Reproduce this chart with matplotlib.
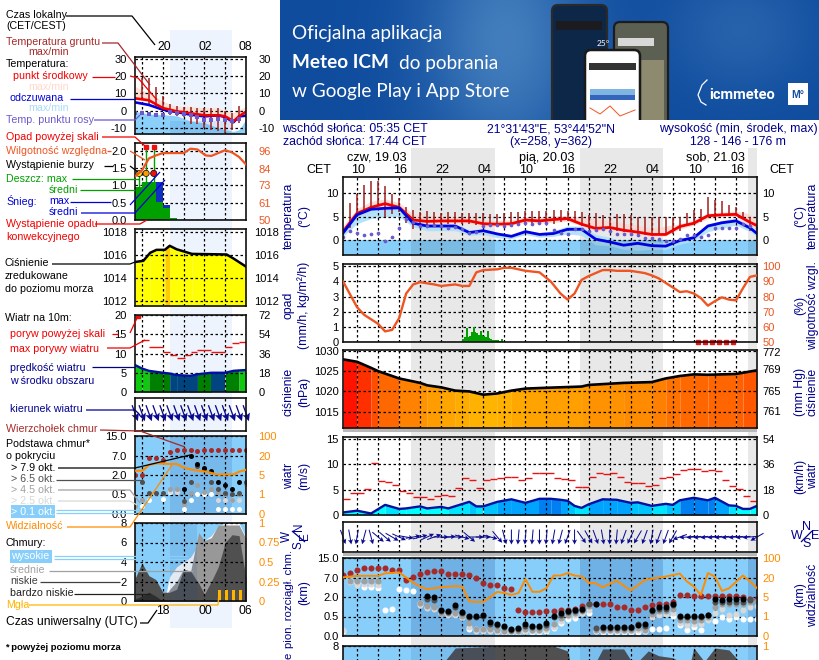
import numpy as np
import matplotlib
matplotlib.use("Agg")
import matplotlib.pyplot as plt
from matplotlib.patches import FancyBboxPatch, Rectangle
from matplotlib.colors import LinearSegmentedColormap

plt.rcParams['font.family'] = ['Liberation Sans', 'DejaVu Sans']

n = np.nan
W, H = 820, 660

NAVY = '#00008c'
SKY = '#87cefa'
BROWN = '#a52a2a'
ORANGE = '#ff8c00'
HUM = '#ee5522'
GREEN = '#00a000'

# ---- main meteogram (hours counted from 00 CET on 19.03)
hours_all = list(range(8, 68))
temp_hours = [8, 10, 12, 14, 16, 18, 20, 22, 24, 26, 28, 30, 32, 34, 36, 38, 40, 42, 44, 46, 48, 50, 52, 54, 56, 58, 60, 62, 64, 66, 67]
temp_mid = [1.8, 5.7, 7, 7.8, 7, 4.3, 4.0, 4.1, 4.1, 4.1, 3.5, 3.4, 3.5, 4.3, 4.1, 4.4, 4.6, 3.4, 2.5, 2.7, 2.1, 1.7, 1.2, 1.2, 2.9, 3.6, 5.2, 5.4, 5.5, 3.8, 3.1]
temp_hi = [3, 6.7, 8.3, 8.8, 8, 5.6, 5.2, 5.1, 5.0, 5.0, 4.3, 4.2, 4.4, 5, 5, 5.2, 5.2, 5.0, 4.5, 4.2, 3.6, 3.2, 2.6, 3.0, 3.5, 4.3, 5.8, 6, 6.2, 5.6, 4.4]
temp_lo = [1.0, 4.6, 5.6, 6.6, 6.3, 3.8, 3.3, 3.6, 3.7, 3.6, 3.0, 3.0, 3.2, 3.8, 3.6, 3.8, 4, 3.0, 2.0, 2.2, 1.6, 1.3, 0.8, 0.9, 2.4, 3.2, 4.6, 5, 5, 3, 2.4]
feel_mid = [1.5, 5.4, 6.6, 6.8, 6.9, 3.6, 3.0, 3.0, 3.0, 1.6, 2.0, 1.3, 0.8, 1.8, 1.2, 1.4, 2.3, 2.3, 0.2, -0.4, -1.1, -0.7, -1.2, -1.3, -0.1, 0.5, 3, 3.7, 4.1, 2.6, 1.4]
feel_hi = [1.6, 5.6, 6.8, 7.1, 7.1, 4.4, 3.5, 3.5, 3.5, 2.2, 2.4, 1.7, 1.1, 2.1, 1.6, 2.0, 3.0, 3.0, 1.2, 0.6, -0.4, 0.2, -0.4, -0.5, 0.4, 1.0, 3.5, 4.2, 4.7, 3.3, 1.9]
feel_lo = [0.8, 3.5, 4.6, 5.0, 5.0, 2.8, 2.0, 2.0, 2.0, 1.0, 1.2, 0.5, 0.3, 1.2, 0.6, 0.8, 1.3, 1.0, -1.0, -1.2, -2.0, -2.2, -2.0, -2.0, -0.9, -0.2, 1.8, 2.5, 3.2, 1.8, 0.8]
dew = [0.6, 2.0, 1.5, 1.0, 1.2, 1.5, -0.2, 0.7, 2.5, 4.6, 3.8, 3.0, 3.0, 3.2, 3.0, 2.6, 2.9, 2.4, 1.6, 1.7, 3.1, 3.2, 3.2, 3.1, 3.2, 3.4, 3.6, 3.5, 3.6, 3.6,
       2.2, 1.5, 1.2, 2.4, 2.3, 1.9, 2.1, 2.4, 2.0, 1.4, 1.4, 1.3, 1.0, 0.5, 0.5, 0.2, -0.3, -0.3, 0.2, 1, 1, 0.6, 1.1, 2.5, 2.5, 2.5, 2.6, 3.5, 3.1, 2.5]
soil_hours = list(range(9, 67))
soil_max = [7.9, 9.9, 11.8, 12.6, 12.6, 11.6, 9.9, 8.9, 7.1, 6.4, 6.1, 6.2, 6.1, 5.7, 5.9, 5.9, 5.7, 5.7, 5.7, 5.7, 5.6, 5.6, 5.7, 5.9, 5.9, 6.2, 6.2, 6.2, 6.2,
            6.4, 6.4, 6.3, 6.3, 5.9, 5.4, 5.7, 5.4, 5, 5.5, 5.5, 5.4, 5, 5, 5, 5, 4.9, 4.9, 5, 5.7, 6.4, 6.6, 9.3, 8.6, 8.4, 7.5, 7.1, 5.9, 5]
soil_min = [2.5, 5, 6, 6.8, 7.2, 5, 5.5, 6, 3.6, 2.3, 3.4, 3.3, 3.4, 3.4, 3.4, 3.4, 3.4, 3.5, 3.3, 3.2, 3.2, 3.2, 3.2, 3.3, 3.3, 3.6, 3.6, 3.6, 3.4,
            3.5, 3.8, 4, 4, 3, 2.4, 2.3, 2.5, 2.3, 1.9, 1.8, 1.7, 1, 1, 1, 1, 1, 1.2, 2, 3, 3.4, 3.9, 5, 5, 5.2, 5.3, 5.3, 4.5, 1.9]

hum_hours = [8, 10, 11, 12, 13, 14, 15, 16, 17, 18, 19, 21, 22, 24, 25, 26, 27, 28, 30, 31, 32, 34, 36, 37.6, 39, 40, 41, 42, 43, 45, 46, 47, 49, 51, 52, 53, 54, 56, 57, 58, 59, 60, 61, 62, 63, 64, 65, 66, 67]
hum = [90, 73, 68, 65, 62, 57, 58, 65.8, 82, 88, 89.5, 88, 87, 88, 87, 87, 96, 97.5, 98, 99, 99, 97, 96, 90, 82, 78, 82, 91, 93.5, 97.5, 97.5, 97, 97, 95.5, 94, 92, 89, 83, 83.5, 82, 79, 74, 77, 79.5, 78, 77.5, 85.5, 93, 94]
rain_hours = [25, 25.25, 25.5, 25.75, 26, 26.25, 26.5, 26.75, 27, 27.25, 27.5, 27.75, 28, 28.25, 28.5, 28.75, 29, 29.25, 29.5, 29.75, 30, 30.25, 30.5]
rain = [.2, .3, .95, .35, .4, .65, .98, .65, .6, .45, .75, .45, .4, .35, .7, .25, .2, .15, .15, .1, .1, .05, .2]
conv_hours = [58.6, 59.6, 60.6, 61.6, 62.6, 63.6]
conv_rain_hours = [59.6, 60.6]
conv_rain = [.3, .22]

press_hours = [8, 10, 12, 13, 16, 19, 20, 22, 24, 26, 28, 30, 32, 34, 37, 42, 43, 48, 52, 54, 56, 58, 60, 64, 65, 67]
press = [1027.9, 1027.3, 1025.8, 1025, 1023.2, 1022.1, 1021.5, 1021, 1020.2, 1020, 1019.2, 1019.5, 1020.2, 1020.7, 1020.9, 1021.2, 1021.6, 1022.1, 1022.3, 1023.2, 1023.8, 1024.2, 1024.1, 1024.3, 1024.6, 1025.2]

wind_hours = [8, 10, 12, 14, 16, 17, 19, 20, 22, 23, 26, 27, 28, 30, 32, 34, 36, 37.6, 39, 40, 41, 42, 43, 45, 47, 49, 50, 52, 54, 55, 56, 58, 60, 61, 63, 64, 65, 66, 67]
wind = [.5, .85, .3, 2, 1.2, 1.3, 1.7, 1.3, 1.6, 1.3, 2.6, 1.7, 1.7, 2.6, 3.1, 2.4, 3.2, 3.2, 3, 2.8, 1.8, 1.4, 2.1, 3.1, 3, 2.4, 2.5, 1.8, 2.2, 2, 2.9, 3.4, 2.9, 3.4, 1.9, 1.8, 1.2, 1.2, 1.8]
gust_hours = list(range(8, 67))
gust = [3.1, 4.3, 4.3, 5.1, 10.2, 6.7, 6.5, 6, 4.7, 4.3, 3.5, 3.5, 3.1, 3.8, 3.9, 3.7, 5.3, 7.4, 7, 5.3, 7, 7.2, 7.4, 7.6, 7.6, 7, 7.4, 8.2, 8.2, 8.2,
        7.4, 7.2, 7, 5.6, 5.5, 7.6, 8.2, 8.1, 8.2, 7.6, 6.6, 6.4, 6.4, 5.8, 6, 7.4, 7.6, 8, 8.8, 9.1, 9.1, 8.6, 8.8, 8.6, 7, 5.7, 5.1, 3.7, 2.8]
wind_dir = [340, 350, 10, 15, 345, 310, 310, 300, 295, 280, 260, 255, 245, 250, 270, 265, 270, 285, 310, 270, 270, 285, 320, 345, 0, 5, 5, 5, 0, 5,
            10, 15, 20, 0, 325, 330, 340, 350, 0, 5, 20, 25, 30, 20, 10, 20, 20, 30, 70, 85, 85, 85, 85, 85, 85, 85, 85, 85, 85, 60]

cloud_top = [8.1, 8.8, 10.2, 10.8, 10.8, 10.8, 10.8, 10.2, 10, 6.3, 7.4, 8.3, 9.4, 9.5, 9.5, 8.4, 8.5, 8.5, 8, 7, 5.6, 5.2, 5, 4.4, 4, 1.0, .83, .83, .87, .9,
             .9, 1, 1, 1.1, 1.34, 1.5, 1.5, 1.5, 1.5, 1.24, 1.24, 1, 1, 1.24, 1.37, 1.5, 1.5, 1.65, 2.4, 2.4, 2.3, 2.2, 2.2, 2.2, 2.3, 2.3, 2.3, 2, 1.85, 1.85]
base_79 = [n, n, n, n, n, n, n, n, n, n, n, n, 2.15, 2, 1, .93, 1.4, .88, .57, .57, .62, .37, .32, .26, .19, .21, .3, .26, .26, .33,
           .55, .75, .95, 1, 1.1, n, 1.45, .24, .24, .24, .24, .24, .27, .3, 1, 1.26, 1.26, 1.5, .55, .57, .57, .57, .65, 1.83, 1.8, 1.85, 1.85, 1.85, n, n]
base_65 = [n, n, n, n, n, n, n, n, n, n, n, n, 1.85, 1.75, .9, .85, 1.2, .8, .5, .5, .55, .3, .27, .22, .16, .18, .25, .22, .22, .28,
           .48, .65, .85, .9, 1, 1.45, .2, .2, .2, .2, .2, .2, .3, .25, .9, 1.1, 1.1, 1.35, .5, .5, .5, .5, .58, 1.65, 1.6, 1.65, 1.65, 1.65, 1.8, n]
base_45 = [n, 6.2, 6, 6, 6, 6, n, n, n, n, n, 1.55, 1.3, 1.25, .8, .75, .75, .55, .33, .18, .18, .18, .16, .14, .12, .14, .18, .16, .16, .2,
           .3, .45, .65, .75, .9, 1.3, .15, .15, .15, .15, .15, .15, .2, .15, .7, .9, .95, 1.1, .42, .4, .38, .42, .5, 1.2, 1.45, 1.45, 1.45, 1.5, 1.6, 1.7]
base_25 = [.15, 5.8, 5.2, 5.4, 5.4, 5.2, n, n, n, n, n, 1.35, 1.15, 1.1, .75, .65, .65, .5, .22, .12, .12, .12, .12, .11, .1, .11, .14, .12, .12, .15,
           .24, .38, .52, .6, .8, 1.0, .12, .12, .12, .12, .12, .12, .15, .12, .5, .6, .7, .8, .33, .28, .3, .32, .42, .8, 1.1, .6, .7, 1.0, 1.2, 1.3]
base_01 = [.12, 6, 5.6, 4.6, 4.6, 4.3, 1.0, 1.1, 4, 3.8, 3.5, 1.55, 1.25, n, .8, .7, .7, .5, .18, .17, .17, .15, .12, .11, .1, .1, .12, .11, .11, .13,
           .2, .33, .44, .45, .75, .8, .13, .1, .1, .1, .1, .1, .1, .12, .18, .18, .21, .55, .27, .15, .24, .15, .5, .39, .5, .44, .5, .44, .44, .44]
vis_hours = [8, 10, 13, 14, 16, 17, 18, 19, 20, 22, 24, 25, 26, 27, 28, 30, 31, 32, 33, 34, 35, 36, 37, 38, 39, 40, 41, 42, 43, 44, 45, 47, 49, 51, 52, 54, 56, 57, 58, 59, 60, 61, 62, 63, 65, 66, 67]
vis = [20.4, 27, 27, 37, 41, 20, 16, 13, 11, 12.5, 13.4, 13, 4.1, 4, 4, 9, 8, 6.6, 8, 18.8, 9, 9, 11.8, 28, 28, 38, 28, 25, 16, 15.5, 12.5, 17.5, 10, 18, 19, 24, 36, 17, 13, 6.5, 38, 24, 9.7, 11.6, 28, 17, 11.8]
low_cloud_hours = [8, 21, 22, 24, 31, 38, 40, 40.5, 44, 45, 48, 49.5, 51.5, 53, 55, 56, 57.5, 58, 59.5, 61, 63, 64.5, 67]
low_cloud = [0, 0, 6, 7.8, 8, 8, 7.5, 6, 6.3, 7.7, 7.7, 6, 7.5, 7, 6.8, 6.4, 6.3, 7.8, 6.4, 7.8, 7.6, 6.4, 6]

night_spans = [(17.73, 29.6), (41.73, 53.6), (65.73, 67)]

# ---- left legend meteogram
l_temp_hours = [16, 18, 20, 22, 24, 26, 28, 29, 30.2, 31, 32]
l_temp = [7.1, 6, 1.5, -0.4, -1.5, -2.7, -2.7, -3.3, -6.2, -3.3, -0.6]
l_feel = [4.8, 3.3, 0.6, -0.8, -2.3, -3.3, -2.7, -3.7, -6.7, -3.3, -2.9]
l_temp_hi = [14, 10, 5.4, 2.5, 2.5, 1.5, 1.5, 0.5, -1.3, 0.5, 2.5]
l_feel_hi = [-0.4, -2, -2.3, -3, -6, -7, -10, -11, -12, -11, -5]
l_hours = list(range(16, 32))
l_dew = [-1.3, -1.3, -1.7, -2.3, -2.7, -1, -1.3, -1.7, -2.3, -3.8, -5.2, -5.6, -4.8, -5.6, -6.2, -4.8]
l_soil_hours = list(range(17, 32))
l_soil_max = [19, 18.8, 13.6, 8.3, 3.8, 2.9, 2.1, 2.1, 1.5, 1.5, 1.5, 1.5, -0.4, -1.3, 2.5]
l_soil_min = [6, 4, 2.5, 0, -2.3, -3, -3.5, -7.5, -8, -10, -11, -12, -13, -11, -7]
l_hum_hours = [16, 17, 18, 19, 20, 23, 24, 25, 26.2, 27, 29, 30, 31, 32]
l_hum = [79, 83, 91, 93, 94.6, 94.6, 97.5, 97, 93, 92.7, 96.5, 95, 92, 87]
l_rain_hours = [16, 17, 18, 19, 20, 21]
l_rain = [.95, 1.1, 1.1, .53, .34, .05]
l_snow = [0, 0, 0, 1.1, .43, 0]
l_storm_hours = [16.6, 17.6, 18.7]
l_storm_cols = ['#ffe000', '#ff9900', '#ee1111']
l_over_hours = [17.6, 18.7]
l_press_hours = [16, 17.2, 18.2, 19.1, 20.3, 21, 22, 23.1, 24.2, 29.2, 30.2, 32]
l_press = [1015.4, 1015.5, 1016.2, 1016.45, 1016.45, 1016.8, 1016.5, 1016.3, 1016.1, 1016.05, 1015.7, 1015]
l_wind_hours = [16, 17, 18, 20, 21, 22, 24, 25, 27, 29, 30.2, 31, 32]
l_wind = [7, 6.1, 5.5, 5, 4.8, 4.4, 4.2, 4.6, 5, 5, 5.5, 5.6, 5.7]
l_wind_cols = ['#10c810', '#10c810', '#008000', '#008000', '#00457f', '#00457f', '#00457f', '#008000', '#00457f', '#008000', '#008000', '#10c810']
l_gust_hours = [17, 18, 20, 21, 22, 23.2, 24, 25, 27, 29, 30, 31]
l_gust_ends = [18, 20, 21, 22, 23.2, 24, 25, 27, 29, 30, 31, 32]
l_gust = [13.4, 11.6, 10.5, 9.6, 8.8, 9.7, 10.3, 10.8, 10.5, 11.6, 12.6, 12.9]
l_dir = [340] * 17
l_top = [2, 2, 6.3, 6.3, 5.8, 8.6, 9.2, 9.4, 9.4, 8.8, 9.4, 9.4, 9.4, 9.4, 9.4, 9.4, 9.4]
l_base_hours = list(range(16, 33))
l_b79 = [n, n, n, n, n, n, n, .9, 6.9, 4.8, 3.9, 3.1, 1.5, 1.2, .9, 1.5, n]
l_b65 = [n, 1.5, .65, .65, .65, n, n, .34, 1.5, 4.2, 3.5, 1.5, .9, .65, .55, .65, 1.5]
l_b45 = [.2, .36, n, n, n, .9, .9, .25, .65, 1.24, .7, .9, .7, .55, .36, .55, 1.3]
l_b25 = [.2, n, n, n, n, .75, .7, .34, n, n, n, n, .36, .36, .36, .36, n]
l_b01 = [n, .2, .36, n, .38, .7, n, .12, .36, .57, .57, .57, .12, .12, .12, .12, n]
l_vis_hours = [16, 17.1, 18, 19.1, 21, 22, 23.1, 24.2, 26.4, 27.8, 30.2, 31, 32]
l_vis = [8.3, 8.3, 12.7, 14, 13.5, 13.5, 10.6, 9, 7.5, 5.4, 5.5, 7.5, 9]
l_cl_hours = [16, 17, 18, 19, 20, 20.4, 21, 22, 23, 24, 24.8, 25.2, 26, 27, 28, 29, 30, 31, 32]
l_cl_high = [0, 0, 0, 0, 0, 0.5, 2.5, 3.5, 4, 4.5, 5.4, 6, 6.2, 6.7, 7.7, 8, 8, 8, 6.5]
l_cl_mid = [0, 0, 0, 0, 0, 0.5, 1.2, 2, 3.3, 3.0, 5.8, 7, 6.2, 6.5, 7.8, 7.8, 7.8, 7.8, 6.4]
l_cl_low = [2.3, 3.9, 2.6, 2.2, .9, .9, .9, 1.2, 3.2, 3.1, 2.2, 1.8, .7, 2, 3.5, 6, 6.8, 6.7, 2.3]
l_cl_vlow = [.2, .5, .9, .5, 0, 0, 0, 0, 0, 0, 0, 0, 0, 0, 0, 0, 0, 0, 0]
l_fog_hours = [28, 29, 30, 31]
l_fog = [1.1, 1.1, 1.1, 1.1]

fig = plt.figure(figsize=(W / 100, H / 100), dpi=100)


def panel(l, t, r, b, xlim, z=2):
    ax = fig.add_axes([l / W, 1 - b / H, (r - l) / W, (b - t) / H], zorder=z)
    ax.patch.set_alpha(0)
    ax.set_xlim(*xlim)
    ax.tick_params(length=0, labelsize=8, pad=3)
    ax.set_xticks(np.arange(10 if xlim[0] == 8 else 17, xlim[1], 3))
    ax.set_xticklabels([])
    ax.grid(True, color='black', linestyle=(0, (2, 2)), linewidth=0.9)
    ax.set_axisbelow(False)
    for s in ax.spines.values():
        s.set_linewidth(1.2)
        s.set_color('#101010')
        s.set_zorder(6)
    return ax


def right_ticks(ax, ticks, labels, color='black', pad=4):
    tw = ax.twinx()
    tw.set_zorder(ax.get_zorder() + 1)
    tw.set_ylim(*ax.get_ylim())
    tw.set_yticks(ticks, labels)
    tw.tick_params(length=0, labelsize=8, pad=pad, colors=color)
    for s in tw.spines.values():
        s.set_visible(False)
    return tw


def km_fwd(v):
    return np.interp(v, [0, .5, 2, 7, 15], [0, 1, 2, 3, 4])


def km_inv(v):
    return np.interp(v, [0, 1, 2, 3, 4], [0, .5, 2, 7, 15])


def vis_fwd(v):
    return np.interp(v, [0, 1, 5, 20, 100], [0, 1, 2, 3, 4])


def vis_inv(v):
    return np.interp(v, [0, 1, 2, 3, 4], [0, 1, 5, 20, 100])


def night(ax, spans, color='black', alpha=0.09, y0=None, y1=None):
    for a, b in spans:
        if y0 is None:
            ax.axvspan(a, b, color=color, alpha=alpha, linewidth=0, zorder=1.5)
        else:
            ax.fill_between([a, b], y0, y1, color=color, alpha=alpha, linewidth=0, zorder=1.5)


def cloud_base_dots(ax, hrs, series, size):
    cols = ['white', '#d8d8d8', '#a0a0a0', '#505050', 'black']
    for vals, c in zip(series, cols):
        ax.scatter(hrs, vals, s=size, color=c, linewidths=0, zorder=3.2)


def arrows(ax, hrs, dirs, length, head, y=0.0, width=1.0):
    d = np.radians(dirs)
    ax.quiver(hrs, np.full(len(hrs), y), -np.sin(d) * length, -np.cos(d) * length, angles='uv', scale_units='dots', scale=1,
              units='dots', width=width, headwidth=head, headlength=head, headaxislength=head - 1, pivot='mid',
              color='#0a0a90', clip_on=False, zorder=4)


press_cmap = LinearSegmentedColormap.from_list('press', [(0, '#ffb400'), (.22, '#ff9c00'), (.5, '#ff7000'), (.75, '#ff4a00'), (1, '#ff1000')])
wind_cols = ['#00ffff', '#00e4ff', '#00c4ff', '#00a4ff', '#0080f0']

# ---- background layer: banner and the day/night bands
bg = fig.add_axes([0, 0, 1, 1], zorder=0)
bg.set_xlim(0, W)
bg.set_ylim(H, 0)
bg.axis('off')


def hx(h):
    return 343 + (h - 8) * (757 - 343) / 59


for a, b in night_spans:
    bg.add_patch(Rectangle((hx(a), 148), hx(b) - hx(a), 512, color='#e8e8e8', lw=0))
bg.add_patch(Rectangle((170, 30), 62, 598, color='#eef4fd', lw=0))
for y in [428.5, 552.5]:
    bg.add_patch(Rectangle((343, y), 414, 3, color='#b8b8b8', lw=0))

yy, xx = np.mgrid[0:120, 0:540]
glow = np.exp(-((xx - 225) / 80.0) ** 2 - ((yy - 40) / 120.0) ** 2)
glow2 = np.exp(-((xx - 460) / 70.0) ** 2 - ((yy - 30) / 60.0) ** 2)
base = np.array([0.06, 0.30, 0.62])
light = np.array([0.26, 0.49, 0.74])
img = base[None, None, :] + (light - base)[None, None, :] * np.clip(glow + 0.45 * glow2, 0, 1)[:, :, None]
bg.imshow(img, extent=[280, 820, 120, 0], aspect='auto', interpolation='bilinear')
bg.set_xlim(0, W)
bg.set_ylim(H, 0)

for x0, y0, w, h, fc, ec in [(552, 5, 55, 125, '#0c2748', '#2a2a2a'), (614, 22, 54, 108, '#5b6052', '#1c1c1c')]:
    bg.add_patch(FancyBboxPatch((x0, y0), w, h, boxstyle='round,pad=0,rounding_size=6', fc=fc, ec=ec, lw=1.6))
bg.add_patch(Rectangle((556, 21), 46, 9, color='#1b1b20', lw=0))
bg.add_patch(Rectangle((618, 38), 36, 8, color='#d8d8d8', lw=0))
bg.add_patch(Rectangle((640, 60), 24, 60, color='#8d8a70', lw=0))
bg.add_patch(FancyBboxPatch((585, 50), 55, 80, boxstyle='round,pad=0,rounding_size=6', fc='white', ec='#1a1a1a', lw=1.8))
bg.add_patch(Rectangle((589, 63), 47, 7, color='#333333', lw=0))
bg.add_patch(Rectangle((590, 89), 45, 6, color='#7fb5e0', lw=0))
bg.add_patch(Rectangle((590, 95), 45, 5, color='#3366bb', lw=0))
bg.plot([590, 600, 610, 620, 635], [108, 114, 106, 116, 110], color='#ee5522', lw=0.7)
bg.text(597, 43, '25°', color='white', fontsize=6, ha='left', va='center', family='Lato')
bg.add_patch(Rectangle((280, 120), 540, 28, color='white', lw=0, zorder=5))
bg.add_patch(Rectangle((788, 83), 20, 22, color='white', lw=0))
bg.text(798, 94.5, 'M°', color='#1450a0', fontsize=7.5, fontweight='bold', ha='center', va='center')
bg.text(709, 95, 'icmmeteo', color='white', fontsize=10.5, fontweight='bold', ha='left', va='center', family='Roboto')
bg.plot([707, 702, 698, 701, 706], [80, 85, 95, 102, 105], color='white', lw=0.9)

bg.text(292, 34, 'Oficjalna aplikacja', color='white', fontsize=13.7, va='center', family='Lato')
bg.text(292, 63, 'Meteo ICM', color='white', fontsize=13.7, va='center', family='Lato', fontweight='bold')
bg.text(399, 63, 'do pobrania', color='white', fontsize=13.7, va='center', family='Lato')
bg.text(292, 92, 'w Google Play i App Store', color='white', fontsize=13.7, va='center', family='Lato')

# ---- main panels
MX = (8, 67)
ML, MR = 343, 757

ax = panel(ML, 177, MR, 255, MX)
ax.set_ylim(-3.2, 13.5)
ax.set_yticks([0, 5, 10])
ax.axhspan(-3.2, 0, color=SKY, lw=0, zorder=1)
ax.fill_between(temp_hours, temp_lo, temp_hi, color='#ffd4cc', lw=0, alpha=0.8, zorder=1.2)
ax.fill_between(temp_hours, feel_lo, feel_hi, color='#aee0fb', lw=0, alpha=0.9, zorder=1.3)
night(ax, night_spans, alpha=0.09, y0=-3.2, y1=0)
ax.vlines(soil_hours, soil_min, soil_max, color='#a02020', lw=1.1, zorder=3)
ax.plot(temp_hours, temp_mid, color='#f00000', lw=2, zorder=3.3)
ax.plot(temp_hours, feel_mid, color='#0000e0', lw=2, zorder=3.4)
ax.scatter(hours_all, dew, s=7, color='#6a5acd', lw=0, zorder=3.5)
right_ticks(ax, [0, 5, 10], ['0', '5', '10'])

ax = panel(ML, 264, MR, 342, MX)
ax.set_ylim(0, 5.15)
ax.set_yticks([0, 1, 2, 3, 4, 5])
ax.bar(rain_hours, rain, width=.25, align='edge', color=GREEN, lw=0, zorder=3)
ax.bar(conv_rain_hours, conv_rain, width=.1, color=GREEN, lw=0, zorder=3)
ax.axhline(0.02, color=GREEN, lw=0.8, zorder=3)
ax.plot(conv_hours, [0] * len(conv_hours), 's', color='#ee1111', ms=2.6, clip_on=False, zorder=5)
tw = right_ticks(ax, [50, 60, 70, 80, 90, 100], ['50', '60', '70', '80', '90', '100'], HUM)
tw.set_ylim(50, 101.5)
tw.plot(hum_hours, hum, color=HUM, lw=1.7, zorder=3)

ax = panel(ML, 350, MR, 428, MX)
ax.set_ylim(1011, 1030.2)
ax.set_yticks([1015, 1020, 1025, 1030])
for i in range(len(press_hours) - 1):
    m = (press[i] + press[i + 1]) / 2
    ax.fill_between(press_hours[i:i + 2], 1011, press[i:i + 2], color=press_cmap((m - 1019.5) / 8.2), lw=0, zorder=1)
ax.plot(press_hours, press, color='black', lw=1.9, zorder=3)
right_ticks(ax, [1015.2, 1020.2, 1025.5, 1029.8], ['761', '765', '769', '772'])

ax = panel(ML, 437, MR, 515, MX)
ax.set_ylim(0, 15.4)
ax.set_yticks([0, 5, 10, 15])
for i in range(len(wind_hours) - 1):
    m = (wind[i] + wind[i + 1]) / 2
    c = wind_cols[int(np.clip(np.digitize(m, [1.6, 2.1, 2.6, 3.1]), 0, 4))]
    ax.fill_between(wind_hours[i:i + 2], 0, wind[i:i + 2], color=c, lw=0, zorder=1)
ax.hlines(gust, gust_hours, np.array(gust_hours) + 1, color='#ee1111', lw=1.0, zorder=3)
ax.plot(wind_hours, wind, color='#0010a0', lw=1.7, zorder=3.2)
right_ticks(ax, [0, 5, 10, 15], ['0', '18', '36', '54'])

ax = panel(ML, 522, MR, 552, MX)
ax.set_ylim(-1, 1)
ax.set_yticks([])
arrows(ax, hours_all, wind_dir, 15, 5)

ax = panel(ML, 558, MR, 636, MX)
ax.set_yscale('function', functions=(km_fwd, km_inv))
ax.set_ylim(0, 15)
ax.set_yticks([0, .5, 2, 7, 15], ['0.0', '0.5', '2.0', '7.0', '15.0'])
ax.minorticks_off()
ax.axhspan(0, 15, color=SKY, lw=0, zorder=0.5)
night(ax, night_spans, color='#1e4e9a', alpha=0.22)
ax.scatter(hours_all, cloud_top, s=19, color=BROWN, lw=0, zorder=3)
cloud_base_dots(ax, hours_all, [base_01, base_25, base_45, base_65, base_79], 19)
tw = ax.twinx()
tw.set_zorder(ax.get_zorder() + 1)
tw.set_yscale('function', functions=(vis_fwd, vis_inv))
tw.set_ylim(0, 100)
tw.set_yticks([0, 1, 5, 20, 100], ['0', '1', '5', '20', '100'])
tw.minorticks_off()
tw.tick_params(length=0, labelsize=8, pad=4, colors=ORANGE)
for s in tw.spines.values():
    s.set_visible(False)
tw.plot(vis_hours, vis, color=ORANGE, lw=1.4, zorder=4)

ax = panel(ML, 646, MR, 724, MX)
ax.set_ylim(0, 8)
ax.set_yticks([8], ['8'])
ax.axhspan(0, 8, color=SKY, lw=0, zorder=0.5)
ax.fill_between(low_cloud_hours, 0, low_cloud, color='#505050', lw=0, zorder=1)
night(ax, night_spans, color='#1e4e9a', alpha=0.12)
right_ticks(ax, [8], ['1'], ORANGE)

# ---- left panels
LX = (16, 32)
LL, LR = 135, 246


def left_panel(t, b):
    a = panel(LL, t, LR, b, LX)
    a.tick_params(pad=6)
    return a


ax = left_panel(57, 134)
ax.set_ylim(-13.5, 31)
ax.set_yticks([-10, 0, 10, 20, 30], ['-10', '0', '10', '20', '30'])
ax.fill_between(l_temp_hours, -13.5, l_feel_hi, color='#8ad0fb', lw=0, zorder=1)
ax.fill_between(l_temp_hours, l_temp, l_temp_hi, color='#ffe0d4', lw=0, zorder=1.1)
night(ax, [(21, 30)], color='#2050a0', alpha=0.1, y0=-13.5, y1=-6)
ax.vlines(l_soil_hours, l_soil_min, l_soil_max, color='#a02020', lw=1.1, zorder=3)
ax.plot(l_temp_hours, l_feel, color='#0000e0', lw=1.9, zorder=3.3)
ax.plot(l_temp_hours, l_temp, color='#f00000', lw=1.9, zorder=3.4)
ax.scatter(l_hours, l_dew, s=6, marker='s', color='#6a5acd', lw=0, zorder=3.5)
right_ticks(ax, [-10, 0, 10, 20, 30], ['-10', '0', '10', '20', '30'], pad=9)

ax = left_panel(143, 220)
ax.set_ylim(0, 2.23)
ax.set_yticks([0, .5, 1, 1.5, 2], ['0.0', '0.5', '1.0', '1.5', '2.0'])
ax.bar(l_rain_hours, l_snow, width=1, align='edge', color='#1030c0', lw=0, zorder=3)
ax.bar(l_rain_hours, l_rain, width=1, align='edge', color=GREEN, lw=0, zorder=3.1)
ax.plot([l_storm_hours[0]] * 2, [.95, 1.35], color=GREEN, lw=1, zorder=3)
ax.vlines(l_over_hours, 1.1, 2.1, color=GREEN, lw=1, zorder=3)
ax.scatter(l_storm_hours, [1.35] * 3, s=20, c=l_storm_cols, edgecolors='black', linewidths=0.5, zorder=5)
ax.plot(l_over_hours, [2.1, 2.12], 's', color='#ee1111', ms=3, zorder=5)
ax.plot([16, 20], [0.01, 0.01], color='#ee1111', lw=1, linestyle=(0, (2, 2)), zorder=5)
tw = right_ticks(ax, [50, 61, 73, 84, 96], ['50', '61', '73', '84', '96'], HUM, pad=9)
tw.set_ylim(50, 101.3)
tw.plot(l_hum_hours, l_hum, color=HUM, lw=1.6, zorder=3)

ax = left_panel(229, 306)
ax.set_ylim(1011.6, 1018.25)
ax.set_yticks([1012, 1014, 1016, 1018])
for i in range(len(l_press_hours) - 1):
    c = '#ffcc00' if l_press_hours[i] == 20.3 else '#ffff00'
    ax.fill_between(l_press_hours[i:i + 2], 1011.6, l_press[i:i + 2], color=c, lw=0, zorder=1)
ax.plot(l_press_hours, l_press, color='black', lw=1.8, zorder=3)
right_ticks(ax, [1012, 1014, 1016, 1018], ['1012', '1014', '1016', '1018'], pad=6)

ax = left_panel(315, 392)
ax.set_ylim(0, 20)
ax.set_yticks([0, 5, 10, 15, 20])
for i in range(len(l_wind_hours) - 1):
    ax.fill_between(l_wind_hours[i:i + 2], 0, l_wind[i:i + 2], color=l_wind_cols[i], lw=0, zorder=1)
ax.hlines(l_gust, l_gust_hours, l_gust_ends, color='#ee1111', lw=1.0, zorder=3)
ax.plot(l_wind_hours, l_wind, color='#0010a0', lw=1.7, zorder=3.2)
ax.plot([16.5], [19.7], 's', color='#ee1111', ms=2.6, zorder=5)
right_ticks(ax, [0, 5, 10, 15, 20], ['0', '18', '36', '54', '72'], pad=9)

ax = left_panel(398, 431)
ax.set_ylim(-1, 1)
ax.set_yticks([])
arrows(ax, l_base_hours, l_dir, 17, 6, y=0.08, width=1.3)

ax = left_panel(436, 514)
ax.set_yscale('function', functions=(km_fwd, km_inv))
ax.set_ylim(0, 15)
ax.set_yticks([0, .5, 2, 7, 15], ['0.0', '0.5', '2.0', '7.0', '15.0'])
ax.minorticks_off()
ax.axhspan(0, 15, color=SKY, lw=0, zorder=0.5)
night(ax, [(21, 30)], color='#1e4e9a', alpha=0.16)
ax.scatter(l_base_hours, l_top, s=13, color=BROWN, lw=0, zorder=3)
cloud_base_dots(ax, l_base_hours, [l_b01, l_b25, l_b45, l_b65, l_b79], 13)
tw = ax.twinx()
tw.set_zorder(ax.get_zorder() + 1)
tw.set_yscale('function', functions=(vis_fwd, vis_inv))
tw.set_ylim(0, 100)
tw.set_yticks([0, 1, 5, 20, 100], ['0', '1', '5', '20', '100'])
tw.minorticks_off()
tw.tick_params(length=0, labelsize=8, pad=9, colors=ORANGE)
for s in tw.spines.values():
    s.set_visible(False)
tw.plot(l_vis_hours, l_vis, color=ORANGE, lw=1.5, zorder=4)

ax = left_panel(523, 601)
ax.set_ylim(0, 8)
ax.set_yticks([0, 2, 4, 6, 8], ['0', '2', '4', '6', '8'])
ax.axhspan(0, 8, color=SKY, lw=0, zorder=0.5)
ax.fill_between(l_cl_hours, 0, l_cl_high, color='white', lw=0, zorder=1)
ax.fill_between(l_cl_hours, 0, l_cl_mid, color='#989898', lw=0, zorder=1.1)
ax.fill_between(l_cl_hours, 0, l_cl_low, color='#505050', lw=0, zorder=1.2)
ax.fill_between(l_cl_hours, 0, l_cl_vlow, color='#2e2e2e', lw=0, zorder=1.3)
night(ax, [(21, 25)], color='#1e4e9a', alpha=0.12)
ax.bar(l_fog_hours, l_fog, width=.42, align='edge', color='#ffb400', lw=0, zorder=3)
right_ticks(ax, [0, 2, 4, 6, 8], ['0', '0.25', '0.5', '0.75', '1'], ORANGE, pad=9)

# ---- overlay: all text labels and leader lines, in pixels
ov = fig.add_axes([0, 0, 1, 1], zorder=30)
ov.set_xlim(0, W)
ov.set_ylim(H, 0)
ov.axis('off')


def t(x, y, s, color='black', ha='left', size=7.7, **kw):
    ov.text(x, y, s, color=color, ha=ha, va='center', fontsize=size, **kw)


def lead(xs, ys, color='black', lw=0.9):
    ov.plot(xs, ys, color=color, lw=lw, solid_capstyle='butt')


# header lines
HS = 8.85
t(282, 129, 'wschód słońca: 05:35 CET', NAVY, size=HS)
t(283, 142, 'zachód słońca: 17:44 CET', NAVY, size=HS)
t(551, 129, '21°31\'43"E, 53°44\'52"N', NAVY, ha='center', size=HS)
t(551, 142, '(x=258, y=362)', NAVY, ha='center', size=HS)
t(818, 129, 'wysokość (min, środek, max)', NAVY, ha='right', size=HS)
t(738, 142, '128 - 146 - 176 m', NAVY, ha='center', size=HS)
for x, s in [(377, 'czw, 19.03'), (547, 'pią, 20.03'), (715, 'sob, 21.03')]:
    t(x, 158, s, ha='center', size=9.1)
for h, s in zip([10, 16, 22, 28, 34, 40, 46, 52, 58, 64], ['10', '16', '22', '04', '10', '16', '22', '04', '10', '16']):
    t(hx(h) + 1, 170, s, ha='center', size=9)
t(319, 170, 'CET', ha='center', size=9)
t(782, 170, 'CET', ha='center', size=9)

# axis titles
for y, a, b in [(216, 'temperatura', '(°C)'), (305, 'opad', '(mm/h, kg/m²/h)'), (392, 'ciśnienie', '(hPa)'), (476, 'wiatr', '(m/s)')]:
    t(289, y, a, NAVY, ha='center', rotation=90, size=HS)
    t(304, y, b, NAVY, ha='center', rotation=90, size=HS)
for y, a, b in [(216, '(°C)', 'temperatura'), (305, '(%)', 'wilgotność wzgl.'), (392, '(mm Hg)', 'ciśnienie'), (476, '(km/h)', 'wiatr'), (595, '(km)', 'widzialność')]:
    t(800, y, a, NAVY, ha='center', rotation=90, size=HS)
    t(813, y, b, NAVY, ha='center', rotation=90, size=HS)
ov.text(289, 659, 'e', color=NAVY, ha='center', va='bottom', rotation=90, fontsize=8.2)
ov.text(289, 648, 'pion. rozciągł. chm.', color=NAVY, ha='center', va='bottom', rotation=90, fontsize=8.2)
t(304, 593, '(km)', NAVY, ha='center', rotation=90, size=HS)

# compass roses
for x, y, s in [(807, 527, 'N'), (815, 536, 'E'), (807, 544, 'S'), (797, 536, 'W')]:
    t(x, y, s, NAVY, ha='center', size=9)
lead([801, 812], [542, 531], NAVY)
for x, y, s in [(299, 527, 'N'), (305, 536, 'E'), (299, 545, 'S'), (287, 536, 'W')]:
    t(x, y, s, NAVY, ha='center', rotation=90, size=8.4)
lead([292, 305], [531, 542], NAVY)

# legend meteogram time labels
for x, s in [(164, '20'), (205, '02'), (245, '08')]:
    t(x, 47, s, ha='center', size=8.8)
for x, s in [(163, '18'), (205, '00'), (245, '06')]:
    t(x, 611, s, ha='center', size=8.8)

red = '#f00000'
blue = '#0000d8'
green = '#00a000'
t(6, 15, 'Czas lokalny')
t(6, 26, '(CET/CEST)')
lead([66, 132, 155], [16, 16, 45])
t(6, 42, 'Temperatura gruntu', BROWN)
t(28, 52, 'max/min', BROWN)
lead([102, 118, 150], [43, 43, 85], BROWN)
t(6, 64, 'Temperatura:')
t(13, 76, 'punkt środkowy', red)
lead([92, 115], [77, 77], red)
lead([130, 138, 157], [76, 78, 100], red)
t(28, 87, 'max/min', '#ffd8c8')
t(10, 98, 'odczuwana', blue)
lead([70, 135], [99, 99], blue)
t(28, 108, 'max/min', '#a8dcf8')
t(6, 120, 'Temp. punktu rosy', '#6a5acd')
lead([94, 135, 140], [120, 120, 115], '#6a5acd')
t(6, 137, 'Opad powyżej skali', red)
lead([102, 135, 145], [137, 137, 146], red)
t(6, 151, 'Wilgotność względna', HUM)
lead([107, 111], [151, 151], HUM)
lead([130, 145], [151, 160], HUM)
t(6, 165, 'Wystąpienie burzy')
lead([104, 113], [166, 166])
lead([130, 138], [166, 172])
t(6, 179, 'Deszcz: max', green)
lead([72, 139], [179, 179], green)
t(49, 190, 'średni', green)
lead([80, 135], [190, 190], green)
t(6, 201, 'Śnieg:', blue)
t(49, 201, 'max', blue)
lead([70, 111], [202, 202], blue)
lead([130, 160], [205, 172], blue)
t(49, 212, 'średni', blue)
lead([81, 135, 165], [213, 213, 180], blue)
t(6, 224, 'Wystąpienie opadu', red)
lead([95, 140, 147], [224, 224, 220], red)
t(6, 237, 'konwekcyjnego', red)
t(5, 263, 'Ciśnienie')
lead([52, 130, 135], [264, 264, 262])
t(5, 276, 'zredukowane')
t(5, 289, 'do poziomu morza')
t(5, 318, 'Wiatr na 10m:')
t(10, 334, 'poryw powyżej skali', red)
lead([112, 118], [334, 334], red)
lead([130, 138], [333, 316], red)
t(10, 349, 'max porywy wiatru', red)
lead([107, 130, 145], [348, 348, 340], red)
t(10, 368, 'prędkość wiatru', NAVY)
lead([92, 135], [367, 367], NAVY)
t(10, 381, 'w środku obszaru', NAVY)
t(10, 409, 'kierunek wiatru', NAVY)
lead([86, 135, 140], [410, 410, 415], NAVY)
t(6, 429, 'Wierzchołek chmur', BROWN)
lead([100, 140, 185], [430, 431, 447], BROWN)
t(6, 444, 'Podstawa chmur*')
t(6, 456, 'o pokryciu')
t(11, 468, '> 7.9 okt.')
lead([58, 135, 190], [468, 468, 455])
t(11, 479, '> 6.5 okt.', '#505050')
lead([56, 143], [480, 480], '#505050')
t(11, 490, '> 4.5 okt.', '#a0a0a0')
lead([58, 130, 140], [490, 490, 503], '#a0a0a0')
t(11, 501, '> 2.5 okt.', '#d8d8d8')
lead([58, 130, 137], [501, 501, 505], '#d8d8d8')
ov.add_patch(Rectangle((11, 505), 44, 13, color=SKY, lw=0))
t(11, 512, '> 0.1 okt.', 'white')
lead([56, 136], [510, 510], SKY)
lead([56, 136], [513, 513], SKY)
t(6, 526, 'Widzialność', ORANGE)
lead([67, 130, 172], [527, 527, 465], ORANGE)
t(6, 543, 'Chmury:')
ov.add_patch(Rectangle((10, 550), 42, 13, color=SKY, lw=0))
t(11, 556, 'wysokie', 'white')
lead([54, 188], [556, 556], SKY)
lead([54, 188], [559, 559], SKY)
t(10, 570, 'średnie', '#a0a0a0')
lead([49, 193], [571, 571], '#a0a0a0')
t(10, 581, 'niskie', '#404040')
lead([40, 120], [582, 582], '#404040')
t(10, 593, 'bardzo niskie', '#202020')
lead([74, 150], [594, 594], '#202020')
t(6, 605, 'Mgła', '#ffb400')
lead([29, 218, 219], [605, 605, 592], '#ffb400')
t(6, 622, 'Czas uniwersalny (UTC)', size=8.7)
lead([140, 148, 157], [623, 623, 610])
t(5, 648, '* powyżej poziomu morza', size=6.8, fontweight='bold')

fig.savefig('out.png', dpi=100)
